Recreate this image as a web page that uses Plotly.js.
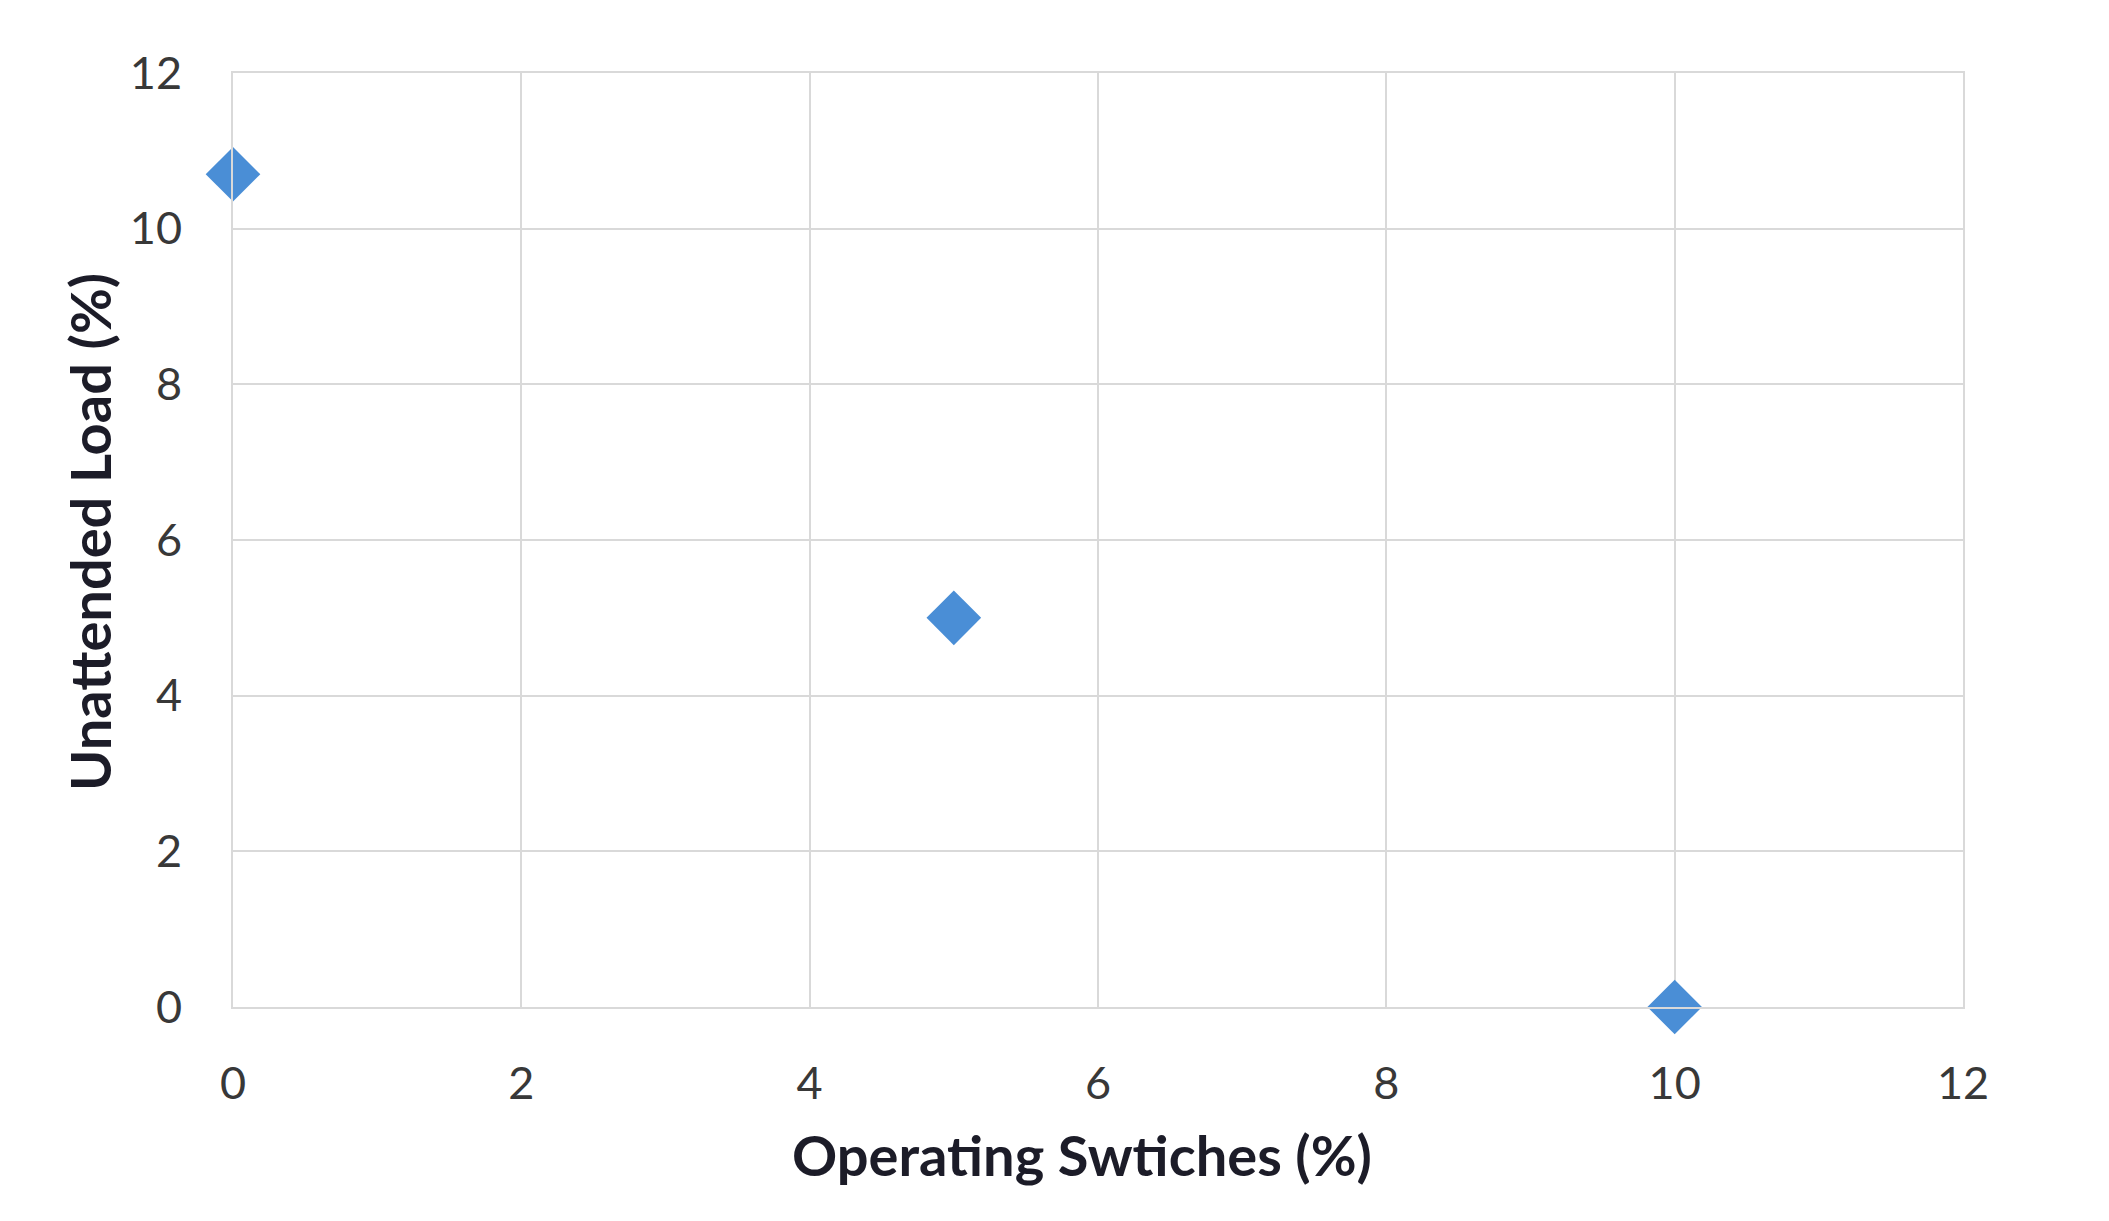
<!DOCTYPE html>
<html>
<head>
<meta charset="utf-8">
<script src="https://cdn.plot.ly/plotly-3.0.1.min.js"></script>
<style>html,body{margin:0;padding:0;background:#fff;}#chart{width:2109px;height:1221px;}</style>
</head>
<body>
<div id="chart"></div>
<script>
const operatingSwitches = [0, 5, 10];
const unattendedLoad = [10.7, 5.0, 0.0];
const xTicks = [0, 2, 4, 6, 8, 10, 12];
const yTicks = [0, 2, 4, 6, 8, 10, 12];
const xTitle = 'Operating Swtiches (%)';
const yTitle = 'Unattended Load (%)';

const trace = {
  x: operatingSwitches,
  y: unattendedLoad,
  type: 'scatter',
  mode: 'markers',
  cliponaxis: false,
  marker: {symbol: 'diamond', size: 42, color: '#4A8ED6', line: {width: 0}},
  hoverinfo: 'none'
};

const axisCommon = {
  range: [0, 12],
  showgrid: true,
  gridcolor: '#D9D9D9',
  gridwidth: 2,
  zeroline: false,
  showline: true,
  linecolor: '#D9D9D9',
  linewidth: 2,
  mirror: true,
  ticks: '',
  tickfont: {family: 'Lato, sans-serif', size: 45, color: '#383838'},
  fixedrange: true
};

const titleFont = {family: 'Lato, sans-serif', size: 56, color: '#1C1C28', weight: 'bold'};

const layout = {
  width: 2109,
  height: 1221,
  margin: {l: 233, r: 146, t: 73, b: 214},
  paper_bgcolor: '#FFFFFF',
  plot_bgcolor: '#FFFFFF',
  showlegend: false,
  xaxis: Object.assign({}, axisCommon, {tickvals: xTicks, ticklabelstandoff: 36}),
  yaxis: Object.assign({}, axisCommon, {tickvals: yTicks, ticklabelstandoff: 40}),
  annotations: [
    {text: xTitle, xref: 'paper', yref: 'paper', x: 0.491, y: -0.158,
     xanchor: 'center', yanchor: 'middle', showarrow: false, font: titleFont},
    {text: yTitle, xref: 'paper', yref: 'paper', x: -0.083, y: 0.509, textangle: -90,
     xanchor: 'center', yanchor: 'middle', showarrow: false, font: titleFont}
  ]
};

Plotly.newPlot('chart', [trace], layout, {displayModeBar: false, staticPlot: true});
</script>
</body>
</html>
